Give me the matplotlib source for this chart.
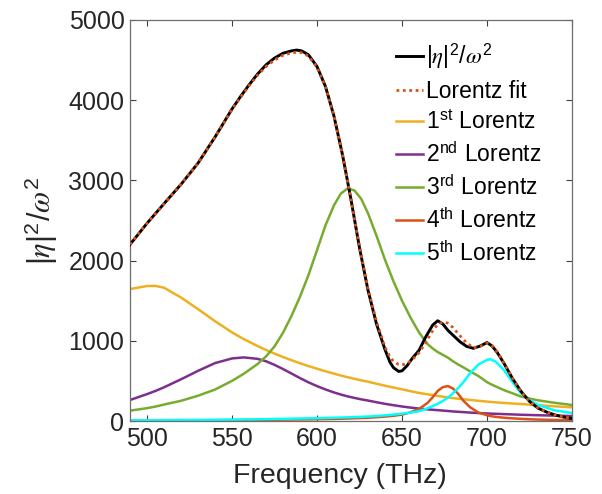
import matplotlib
matplotlib.use("Agg")
import matplotlib.pyplot as plt

plt.rcParams['font.family'] = ['Liberation Sans', 'DejaVu Sans']
plt.rcParams['mathtext.fontset'] = 'custom'
plt.rcParams['mathtext.rm'] = 'Liberation Sans'
plt.rcParams['mathtext.it'] = 'STIXGeneral:italic'
plt.rcParams['mathtext.sf'] = 'Liberation Sans'

# ---- data ----
freq_main = [490, 500, 510, 520, 530, 540, 550, 555, 560, 565, 570, 575, 580, 585, 588,
             591, 595, 600, 605, 610, 615, 620, 625, 630, 635, 640, 643, 645, 648, 650,
             653, 656, 660, 664, 668, 671, 674, 677, 680, 684, 688, 692, 696, 700, 703,
             706, 710, 715, 720, 725, 730, 735, 740, 745, 750]
eta_main = [2200, 2465, 2710, 2950, 3215, 3540, 3890, 4045, 4190, 4325, 4440, 4525, 4585, 4615, 4625,
            4615, 4565, 4420, 4170, 3800, 3320, 2760, 2160, 1630, 1210, 890, 730, 665, 618, 625,
            690, 780, 880, 1050, 1195, 1250, 1210, 1130, 1070, 990, 930, 906, 935, 978, 935,
            855, 719, 530, 370, 245, 160, 112, 75, 50, 30]
fit_main = [2200, 2465, 2710, 2950, 3215, 3540, 3885, 4035, 4180, 4310, 4420, 4500, 4560, 4590, 4598,
            4592, 4550, 4410, 4165, 3800, 3320, 2760, 2170, 1650, 1240, 920, 795, 745, 705, 700,
            715, 765, 850, 980, 1125, 1205, 1235, 1220, 1165, 1065, 975, 912, 930, 972, 940,
            862, 722, 530, 370, 245, 160, 112, 75, 50, 35]

freq_comp = [490, 500, 505, 510, 520, 530, 540, 550, 557, 565, 570, 575, 580, 585, 590,
             595, 600, 605, 610, 614, 618, 622, 626, 630, 635, 640, 645, 650, 655, 660,
             665, 668, 671, 674, 677, 680, 683, 686, 690, 695, 700, 702, 705, 710, 715,
             720, 725, 730, 740, 750]
lor1 = [1645, 1683, 1685, 1662, 1540, 1395, 1245, 1105, 1020, 935, 885, 840, 798, 758, 720,
        685, 652, 620, 590, 567, 546, 526, 507, 490, 465, 440, 417, 395, 372, 350,
        333, 323, 313, 303, 294, 285, 278, 271, 263, 252, 242, 238, 233, 225, 218,
        212, 204, 196, 183, 170]
lor2 = [262, 335, 375, 420, 520, 625, 722, 780, 793, 775, 745, 700, 648, 592, 535,
        482, 435, 393, 356, 330, 307, 288, 270, 255, 234, 214, 197, 181, 167, 155,
        145, 140, 135, 130, 125, 119, 115, 111, 105, 99, 94, 92, 90, 86, 82,
        78, 75, 72, 67, 62]
lor3 = [129, 160, 180, 205, 252, 315, 392, 500, 590, 710, 805, 930, 1100, 1310, 1550,
        1820, 2130, 2440, 2690, 2835, 2900, 2875, 2770, 2590, 2310, 2010, 1740, 1500, 1290, 1105,
        960, 905, 860, 825, 790, 745, 705, 670, 620, 560, 485, 462, 432, 385, 345,
        305, 280, 258, 226, 200]
lor4 = [5, 6, 6, 7, 8, 9, 10, 12, 13, 14, 15, 16, 17, 18, 19,
        20, 22, 24, 26, 28, 31, 34, 37, 40, 47, 55, 65, 80, 108, 150,
        225, 295, 375, 422, 436, 405, 340, 255, 172, 105, 72, 62, 52, 41, 33,
        27, 22, 18, 13, 10]
lor5 = [8, 9, 9, 10, 12, 13, 15, 17, 19, 21, 23, 25, 27, 29, 31,
        33, 35, 38, 41, 43, 46, 49, 52, 56, 62, 70, 80, 92, 105, 122,
        158, 185, 215, 250, 292, 345, 410, 480, 595, 705, 762, 770, 742, 635, 485,
        345, 262, 200, 132, 100]

labels = [r'$|\eta|^2/\omega^2$', 'Lorentz fit', r'1$^{\rm st}$ Lorentz', r'2$^{\rm nd}$ Lorentz',
          r'3$^{\rm rd}$ Lorentz', r'4$^{\rm th}$ Lorentz', r'5$^{\rm th}$ Lorentz']
colors = ['#000000', '#D95319', '#EDB120', '#7E2F8E', '#77AC30', '#D95319', '#00FFFF']
xticks = [500, 550, 600, 650, 700, 750]
yticks = [0, 1000, 2000, 3000, 4000, 5000]

fig = plt.figure(figsize=(6.02, 4.94), dpi=100)
ax = fig.add_axes([130/602, 1-421/494, 442/602, 401/494])

lw = 1.8
ax.plot(freq_main, eta_main, color=colors[0], lw=2.1, label=labels[0], zorder=5)
ax.plot(freq_main, fit_main, color=colors[1], lw=2.0, ls=(0, (1, 1.3)), label=labels[1], zorder=6)
for arr, c, lab in zip([lor1, lor2, lor3, lor4, lor5], colors[2:], labels[2:]):
    ax.plot(freq_comp, arr, color=c, lw=lw, label=lab)

ax.set_xlim(490, 750)
ax.set_ylim(0, 5000)
ax.set_xticks(xticks)
ax.set_yticks(yticks)
ax.tick_params(direction='in', top=True, right=True, length=4, width=0.8,
               labelsize=18, colors='#404040', labelcolor='#262626', pad=4)
for s in ax.spines.values():
    s.set_color('#6e6e6e')
    s.set_linewidth(0.9)
ax.set_xlabel('Frequency (THz)', fontsize=20.5, color='#262626')
ax.xaxis.set_label_coords(0.475, -0.105)
ax.set_ylabel(r'$|\eta|^2/\omega^2$', fontsize=22, color='#262626', labelpad=6)

leg = ax.legend(loc='upper left', bbox_to_anchor=(0.58, 0.967), frameon=False,
                fontsize=16.5, handlelength=1.2, handletextpad=0.15, labelspacing=0.36,
                borderaxespad=0)

fig.savefig('out.png', dpi=100)
